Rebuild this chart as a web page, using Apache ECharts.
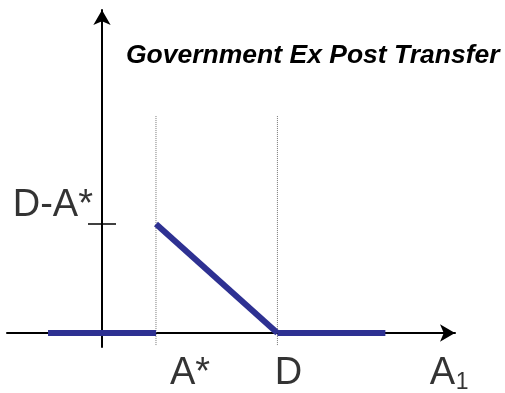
<!DOCTYPE html>
<html>
<head>
<meta charset="utf-8">
<script src="https://cdn.jsdelivr.net/npm/echarts@6/dist/echarts.min.js"></script>
<style>
  html, body { margin: 0; padding: 0; background: #fff; }
  #chart { width: 505px; height: 393px; }
</style>
</head>
<body>
<div id="chart"></div>
<script>
// values in abstract units, y axis sits at x = 0
const aStar = 1
const dVal = 3.25
const gapVal = dVal - aStar          // D - A*
const leftSeg = [[-1, 0], [aStar, 0]]
const slopeSeg = [[aStar, gapVal], [dVal, 0]]
const rightSeg = [[dVal, 0], [5.25, 0]]
const guideX = [aStar, dVal]
const guideRange = [-0.25, 4.5]
const tickHalf = 0.26
const axisNameX = 6.0
const titleText = 'Government Ex Post Transfer'

const blue = '#2E3192'
const font = 'Liberation Sans, Arial, sans-serif'

const chart = echarts.init(document.getElementById('chart'))

const guideSeries = guideX.map(x => ({
  type: 'line',
  data: [[x, guideRange[0]], [x, guideRange[1]]],
  symbol: 'none',
  silent: true,
  lineStyle: { color: '#777', width: 1, type: [1, 1] },
  z: 1
}))

const blueSeries = [leftSeg, slopeSeg, rightSeg].map(seg => ({
  type: 'line',
  data: seg,
  symbol: 'none',
  silent: true,
  lineStyle: { color: blue, width: 6, cap: 'butt' },
  z: 3
}))

chart.setOption({
  animation: false,
  title: {
    text: titleText,
    left: 121,
    top: 37,
    textStyle: { fontFamily: font, fontSize: 26.5, fontWeight: 'bold', fontStyle: 'italic', color: '#000' }
  },
  grid: { left: 7, right: 50, top: 10, bottom: 46 },
  xAxis: {
    type: 'value',
    min: -1.76,
    max: 6.54,
    axisLine: { onZero: true, symbol: ['none', 'arrow'], symbolSize: [13, 15], lineStyle: { color: '#000', width: 2 } },
    axisTick: { show: false },
    axisLabel: { show: false },
    splitLine: { show: false }
  },
  yAxis: {
    type: 'value',
    min: -0.29,
    max: 6.67,
    axisLine: { onZero: true, symbol: ['none', 'arrow'], symbolSize: [13, 15], lineStyle: { color: '#000', width: 2 } },
    axisTick: { show: false },
    axisLabel: { show: false },
    splitLine: { show: false }
  },
  series: [
    ...guideSeries,
    {
      type: 'line',
      data: [[-tickHalf, gapVal], [tickHalf, gapVal]],
      symbol: 'none',
      silent: true,
      lineStyle: { color: '#000', width: 1.5 },
      z: 2
    },
    ...blueSeries,
    {
      type: 'scatter',
      symbolSize: 0,
      silent: true,
      data: [
        { value: [0, gapVal], label: { position: [-9, -18], align: 'right', formatter: 'D-A*' } },
        { value: [aStar, 0], label: { position: [34, 41], align: 'center', formatter: 'A*' } },
        { value: [dVal, 0], label: { position: [11, 41], align: 'center', formatter: 'D' } },
        { value: [axisNameX, 0], label: { position: [4, 41], align: 'left', formatter: 'A' } },
        { value: [axisNameX, 0], label: { position: [30, 50], align: 'left', formatter: '1', fontSize: 23 } }
      ],
      label: {
        show: true,
        verticalAlign: 'middle',
        fontFamily: font,
        fontSize: 38,
        color: '#000'
      },
      z: 4
    }
  ]
})
</script>
</body>
</html>
